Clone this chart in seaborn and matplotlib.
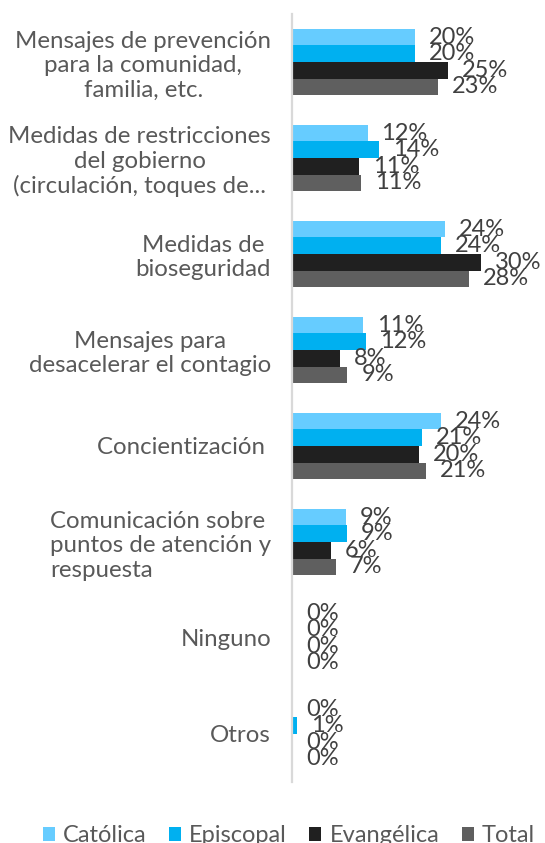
import matplotlib
matplotlib.use("Agg")
import matplotlib.pyplot as plt
import seaborn as sns
import pandas as pd

categories = [
    "Mensajes de prevención\npara la comunidad,\nfamilia, etc.",
    "Medidas de restricciones\ndel gobierno\n(circulación, toques de...",
    "Medidas de\nbioseguridad",
    "Mensajes para\ndesacelerar el contagio",
    "Concientización ",
    "Comunicación sobre\npuntos de atención y\nrespuesta",
    "Ninguno",
    "Otros",
]
series = ["Católica", "Episcopal", "Evangélica", "Total"]
catolica = [19.6, 12.0, 24.3, 11.3, 23.6, 8.6, 0.0, 0.0]
episcopal = [19.6, 13.8, 23.6, 11.7, 20.7, 8.7, 0.0, 0.8]
evangelica = [24.8, 10.6, 30.0, 7.6, 20.2, 6.2, 0.0, 0.0]
total = [23.1, 10.9, 28.1, 8.8, 21.2, 7.0, 0.0, 0.0]
colors = ["#66CCFF", "#00B0F0", "#202020", "#5F5F5F"]

rows = []
for s, vals in zip(series, [catolica, episcopal, evangelica, total]):
    for c, v in zip(categories, vals):
        rows.append({"cat": c, "serie": s, "val": v})
df = pd.DataFrame(rows)

sns.set_style("white")
plt.rcParams["font.family"] = ["Lato", "DejaVu Sans"]

W, H = 545, 843
fig = plt.figure(figsize=(W / 100, H / 100), dpi=100)
x0, x1 = 292, 540
ytop, ybot = 14, 782
ax = fig.add_axes([x0 / W, 1 - ybot / H, (x1 - x0) / W, (ybot - ytop) / H])

sns.barplot(data=df, y="cat", x="val", hue="serie", orient="h", order=categories,
            hue_order=series, palette=colors, width=0.69, saturation=1,
            edgecolor="none", ax=ax, legend=False)

ax.set_xlim(0, (x1 - x0) / 6.3)
ax.set_ylim(len(categories) - 0.5, -0.5)

for cont in ax.containers:
    ax.bar_label(cont, labels=[f"{round(b.get_width())}%" for b in cont],
                 padding=10, fontsize=17, color="#404040")

ax.set_xlabel("")
ax.set_ylabel("")
ax.set_xticks([])
ax.tick_params(axis="y", length=0, pad=15)
for lab in ax.get_yticklabels():
    lab.set_fontsize(17.3)
    lab.set_color("#595959")
    lab.set_multialignment("center")
ax.get_yticklabels()[5].set_multialignment("left")

for sp in ["top", "right", "bottom"]:
    ax.spines[sp].set_visible(False)
ax.spines["left"].set_color("#D9D9D9")
ax.spines["left"].set_linewidth(1.6)

from matplotlib.patches import Patch
handles = [Patch(facecolor=c, edgecolor="none") for c in colors]
fig.legend(handles, series, loc="center", bbox_to_anchor=(289 / W, 1 - 836 / H), ncol=4,
           frameon=False, handlelength=0.5, handleheight=0.5,
           handletextpad=0.35, columnspacing=0.95, labelcolor="#595959",
           prop={"size": 17})

fig.savefig("out.png", dpi=100)
